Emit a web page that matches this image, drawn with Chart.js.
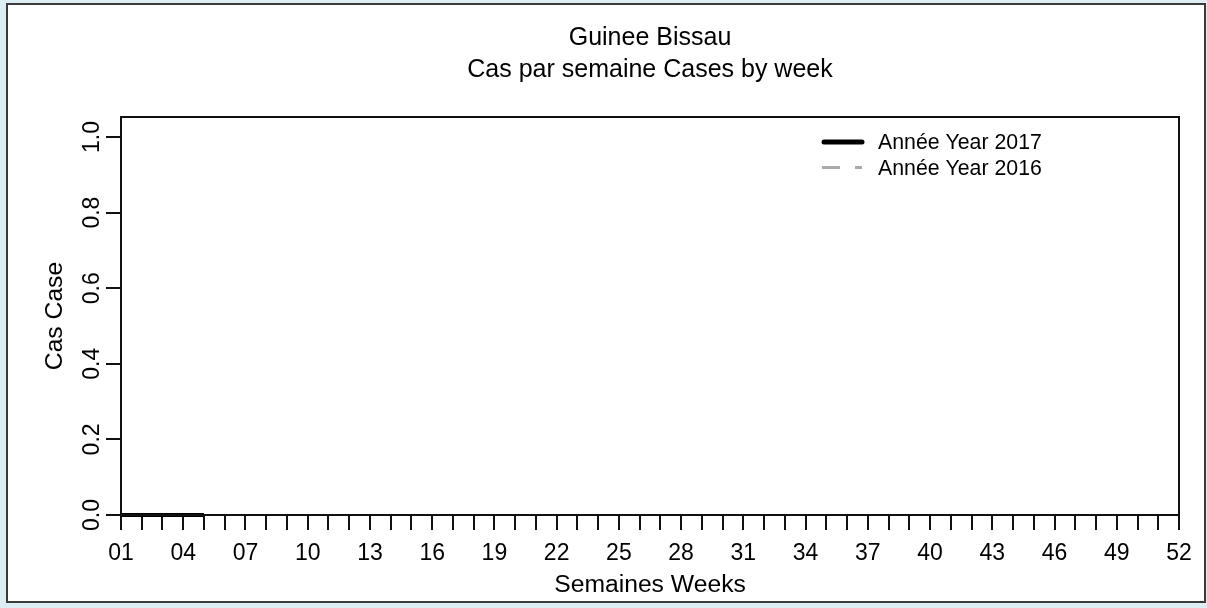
<!DOCTYPE html>
<html><head><meta charset="utf-8">
<script src="https://cdn.jsdelivr.net/npm/chart.js@4.4.1/dist/chart.umd.min.js"></script>
<style>html,body{margin:0;padding:0;background:#ddedf4;overflow:hidden}canvas{display:block}</style>
</head><body>
<canvas id="c" width="1207" height="608"></canvas>
<script>
const weeks = ['01','02','03','04','05','06','07','08','09','10','11','12','13','14','15','16','17','18','19','20','21','22','23','24','25','26','27','28','29','30','31','32','33','34','35','36','37','38','39','40','41','42','43','44','45','46','47','48','49','50','51','52'];
const cases2017 = [0, 0, 0, 0, 0];
const cases2016 = [];
const yTicks = [0, 0.2, 0.4, 0.6, 0.8, 1.0];
const titleLines = ['Guinee Bissau', 'Cas par semaine Cases by week'];
const xTitle = 'Semaines Weeks';
const yTitle = 'Cas Case';
const seriesLabels = ['Année Year 2017', 'Année Year 2016'];

const FONT = '"Liberation Sans", Arial, sans-serif';
Chart.defaults.font.family = FONT;
Chart.defaults.color = '#000';

const framePlugin = {
  id: 'frame',
  beforeDraw(chart) {
    const ctx = chart.ctx;
    ctx.save();
    ctx.fillStyle = '#ddedf4';
    ctx.fillRect(0, 0, chart.width, chart.height);
    ctx.fillStyle = '#ffffff';
    ctx.fillRect(6, 3, 1200, 600);
    ctx.strokeStyle = '#3a3a3a';
    ctx.lineWidth = 2;
    ctx.strokeRect(7, 4, 1198, 598);
    ctx.restore();
  }
};

const boxPlugin = {
  id: 'plotBox',
  afterDraw(chart) {
    const { ctx, chartArea: a } = chart;
    ctx.save();
    ctx.strokeStyle = '#111';
    ctx.lineWidth = 2;
    ctx.strokeRect(a.left, a.top, a.right - a.left, a.bottom - a.top);
    ctx.restore();
  }
};

const legendPlugin = {
  id: 'lineLegend',
  afterDraw(chart) {
    const { ctx, chartArea } = chart;
    const x0 = chartArea.right - 357;
    chart.data.datasets.forEach((ds, i) => {
      const y = chartArea.top + 25 + i * 25.5;
      ctx.save();
      ctx.strokeStyle = ds.borderColor;
      ctx.lineWidth = i === 0 ? 5 : ds.borderWidth;
      ctx.lineCap = i === 0 ? 'round' : 'butt';
      ctx.setLineDash(ds.borderDash || []);
      ctx.beginPath();
      ctx.moveTo(x0 + (i === 0 ? 2 : 0), y);
      ctx.lineTo(x0 + 40, y);
      ctx.stroke();
      ctx.setLineDash([]);
      ctx.fillStyle = '#000';
      ctx.font = '21.3px ' + FONT;
      ctx.textBaseline = 'middle';
      ctx.textAlign = 'left';
      ctx.fillText(ds.label, x0 + 56, y + 1.5);
      ctx.restore();
    });
  }
};

new Chart(document.getElementById('c'), {
  type: 'line',
  data: {
    labels: weeks,
    datasets: [
      { label: seriesLabels[0], data: cases2017, borderColor: '#000000', borderWidth: 4, pointRadius: 0, fill: false, clip: false, tension: 0 },
      { label: seriesLabels[1], data: cases2016, borderColor: '#aaaaaa', borderWidth: 3, borderDash: [18, 15], pointRadius: 0, fill: false, clip: false, tension: 0 }
    ]
  },
  options: {
    responsive: false,
    animation: false,
    devicePixelRatio: 1,
    layout: { padding: { left: 0, right: 28, top: 0, bottom: 0 } },
    plugins: {
      legend: { display: false },
      tooltip: { enabled: false },
      title: {
        display: true, fullSize: false, text: titleLines, color: '#000',
        font: { size: 25, weight: 'normal', lineHeight: '32px' },
        padding: { top: 22, bottom: 31 }
      }
    },
    scales: {
      x: {
        type: 'category', offset: false,
        grid: { display: true, drawOnChartArea: false, drawTicks: true, tickLength: 15, color: '#111', lineWidth: 2, offset: false },
        border: { display: false },
        ticks: { autoSkip: false, maxRotation: 0, minRotation: 0, padding: 10, color: '#000', font: { size: 23 },
          callback: (v, i) => (i % 3 === 0 ? weeks[i] : '') },
        title: { display: true, text: xTitle, color: '#000', font: { size: 24.7 }, padding: { top: 0, bottom: 8 } },
        afterFit(s) { s.height = 93; }
      },
      y: {
        type: 'linear', min: 0, max: 1.053,
        afterBuildTicks(s) { s.ticks = yTicks.map(v => ({ value: v })); },
        grid: { drawOnChartArea: false, drawTicks: true, tickLength: 15, color: '#111', lineWidth: 2 },
        border: { display: false },
        ticks: { minRotation: 90, maxRotation: 90, crossAlign: 'center', padding: -3, color: '#000', font: { size: 23 },
          callback: v => Number(v).toFixed(1) },
        title: { display: true, text: yTitle, color: '#000', font: { size: 24.7 }, padding: { top: 40, bottom: 0 } },
        afterFit(s) { s.width = 121; }
      }
    }
  },
  plugins: [framePlugin, boxPlugin, legendPlugin]
});
</script>
</body></html>
